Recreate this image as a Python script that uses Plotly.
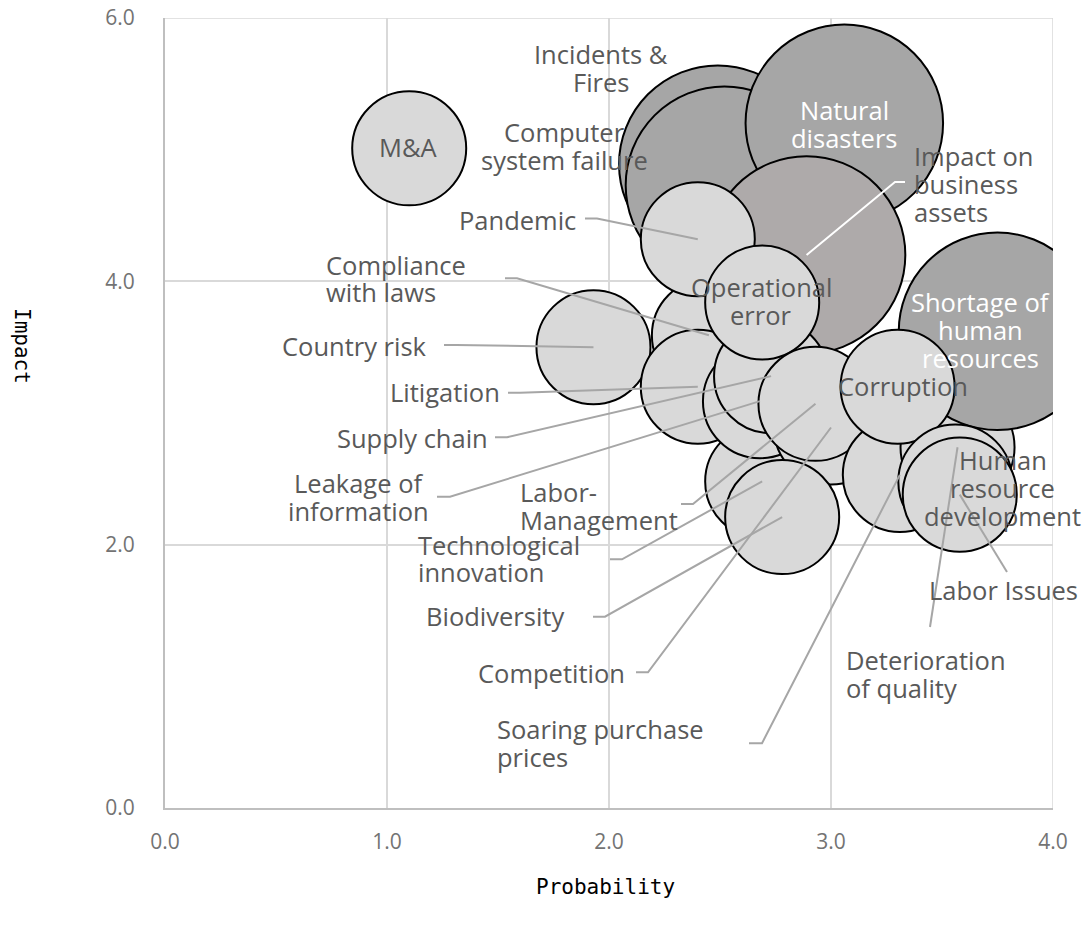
import plotly.graph_objects as go

# ------------------------------------------------------------------ data
# draw order = list order (later bubbles sit on top)
risks = [
    "Incidents & Fires", "Computer system failure", "Natural disasters",
    "Impact on business assets", "Compliance with laws", "Pandemic",
    "Country risk", "Litigation", "Technological innovation",
    "Leakage of information", "Supply chain", "Operational error",
    "Competition", "Labor-Management", "Biodiversity",
    "Soaring purchase prices", "Deterioration of quality",
    "Shortage of human resources", "Corruption",
    "Human resource development", "Labor Issues", "M&A",
]
probability = [
    2.49, 2.52, 3.06,
    2.89, 2.45, 2.40,
    1.93, 2.40, 2.69,
    2.68, 2.73, 2.69,
    3.00, 2.93, 2.78,
    3.31, 3.57,
    3.75, 3.30,
    3.56, 3.58, 1.10,
]
impact = [
    4.89, 4.73, 5.20,
    4.20, 3.59, 4.32,
    3.50, 3.20, 2.48,
    3.09, 3.28, 3.84,
    2.89, 3.07, 2.21,
    2.53, 2.74,
    3.62, 3.20,
    2.48, 2.38, 5.01,
]
bubble_size = [
    3, 3, 3,
    3, 1, 1,
    1, 1, 1,
    1, 1, 1,
    1, 1, 1,
    1, 1,
    3, 1,
    1, 1, 1,
]

x_tick_values = [0, 1, 2, 3, 4]
x_tick_labels = ["0.0", "1.0", "2.0", "3.0", "4.0"]
y_tick_values = [0, 2, 4, 6]
y_tick_labels = ["0.0", "2.0", "4.0", "6.0"]

x_title = "Probability"
y_title = "Impact"

# ------------------------------------------------------------------ layout / style
FIG_W, FIG_H = 1086, 930
M_L, M_R, M_T, M_B = 165, 33, 18, 122
PLOT_W = FIG_W - M_L - M_R
PLOT_H = FIG_H - M_T - M_B
X_RANGE = (0, 4)
Y_RANGE = (0, 6)

DARK, LIGHT, WARM = "#A6A6A6", "#D9D9D9", "#AEAAAA"
special_fill = {"Impact on business assets": WARM}
fills = [special_fill.get(r, DARK if s >= 3 else LIGHT) for r, s in zip(risks, bubble_size)]

LABEL_FONT = "Open Sans"
LABEL_SIZE = 25.5
LABEL_COLOR = "#595959"
LINE_GAP = 27.8
LEADER_COLOR = "#A6A6A6"

max_diameter = 0.25 * min(PLOT_W, PLOT_H)
sizeref = 2.0 * max(bubble_size) / max_diameter ** 2


def px_to_paper(px, py):
    return (px - M_L) / PLOT_W, (M_T + PLOT_H - py) / PLOT_H


def px_to_data(px, py):
    xp, yp = px_to_paper(px, py)
    return (X_RANGE[0] + xp * (X_RANGE[1] - X_RANGE[0]),
            Y_RANGE[0] + yp * (Y_RANGE[1] - Y_RANGE[0]))


# label placement (pixel positions of the text, leader start/elbow points)
label_layout = {
    "Incidents & Fires": dict(lines=["Incidents &", "Fires"], x=601, y=54, align="center"),
    "Computer system failure": dict(lines=["Computer", "system failure"], x=564, y=132, align="center"),
    "Natural disasters": dict(lines=["Natural", "disasters"], x=844, y=110, align="center", color="white"),
    "Impact on business assets": dict(lines=["Impact on", "business", "assets"], x=913, y=156,
                                      align="left", leader=[(905, 182), (895, 182)], leader_color="white"),
    "M&A": dict(lines=["M&A"], x=408, y=147, align="center"),
    "Pandemic": dict(lines=["Pandemic"], x=577, y=220, align="right", leader=[(585, 218.5), (597, 218.5)]),
    "Compliance with laws": dict(lines=["Compliance", "with laws"], x=325, y=264.5, align="left",
                                 leader=[(505, 278.3), (517, 278.3)]),
    "Country risk": dict(lines=["Country risk"], x=428, y=345.7, align="right", leader=[(444, 345), (456, 345)]),
    "Litigation": dict(lines=["Litigation"], x=501, y=392.3, align="right", leader=[(508, 392.7), (520, 392.7)]),
    "Supply chain": dict(lines=["Supply chain"], x=489, y=437.7, align="right", leader=[(495, 437.3), (507, 437.3)]),
    "Leakage of information": dict(lines=["Leakage of", "information"], x=358.5, y=483.3, align="center",
                                   leader=[(437, 496.7), (450, 496.7)]),
    "Labor-Management": dict(lines=["Labor-", "Management"], x=518.5, y=491.7, align="left",
                             leader=[(681, 504), (693, 504)]),
    "Technological innovation": dict(lines=["Technological", "innovation"], x=417, y=544.5, align="left",
                                     leader=[(610, 559.3), (622, 559.3)]),
    "Biodiversity": dict(lines=["Biodiversity"], x=565, y=615.8, align="right", leader=[(593, 616.7), (605, 616.7)]),
    "Competition": dict(lines=["Competition"], x=626, y=673, align="right", leader=[(636, 672.3), (648, 672.3)]),
    "Soaring purchase prices": dict(lines=["Soaring purchase", "prices"], x=495.5, y=729, align="left",
                                    leader=[(749, 743.3), (762, 743.3)]),
    "Deterioration of quality": dict(lines=["Deterioration", "of quality"], x=844.5, y=660.3, align="left",
                                     leader=[(930, 627)]),
    "Labor Issues": dict(lines=["Labor Issues"], x=928, y=590, align="left", leader=[(1007, 572)]),
    "Human resource development": dict(lines=["Human", "resource", "development"], x=1002.5, y=460, align="center"),
    "Shortage of human resources": dict(lines=["Shortage of", "human", "resources"], x=980, y=302,
                                        align="center", color="white"),
    "Operational error": dict(lines=["Operational", "error"], x=761, y=287, align="center"),
    "Corruption": dict(lines=["Corruption"], x=903, y=386, align="center"),
}

# ------------------------------------------------------------------ figure
fig = go.Figure()
fig.add_trace(go.Scatter(
    x=probability, y=impact, mode="markers",
    text=risks, hoverinfo="text",
    marker=dict(size=bubble_size, sizemode="area", sizeref=sizeref,
                color=fills, opacity=1,
                line=dict(color="black", width=2)),
    cliponaxis=True, showlegend=False,
))

annotations = []
shapes = []

# top / right frame lines (grid style)
shapes.append(dict(type="line", xref="x", yref="y", x0=X_RANGE[0], x1=X_RANGE[1], y0=Y_RANGE[1], y1=Y_RANGE[1],
                   line=dict(color="#D9D9D9", width=1.5), layer="below"))
shapes.append(dict(type="line", xref="x", yref="y", x0=X_RANGE[1], x1=X_RANGE[1], y0=Y_RANGE[0], y1=Y_RANGE[1],
                   line=dict(color="#D9D9D9", width=1.5), layer="below"))

for name, px, py in zip(risks, probability, impact):
    spec = label_layout[name]
    # leader line: label -> bubble centre
    if "leader" in spec:
        pts = [px_to_data(*p) for p in spec["leader"]] + [(px, py)]
        path = "M " + " L ".join(f"{a:.5f},{b:.5f}" for a, b in pts)
        shapes.append(dict(type="path", xref="x", yref="y", path=path,
                           line=dict(color=spec.get("leader_color", LEADER_COLOR), width=2),
                           layer="above"))
    for i, line in enumerate(spec["lines"]):
        xp, yp = px_to_paper(spec["x"], spec["y"] + i * LINE_GAP)
        annotations.append(dict(
            text=line, xref="paper", yref="paper", x=xp, y=yp,
            xanchor=spec["align"], yanchor="middle", showarrow=False,
            font=dict(family=LABEL_FONT, size=LABEL_SIZE, color=spec.get("color", LABEL_COLOR)),
            borderpad=0,
        ))

# axis titles
xp, yp = px_to_paper(605, 887)
annotations.append(dict(text=x_title, xref="paper", yref="paper", x=xp, y=yp, showarrow=False,
                        xanchor="center", yanchor="middle",
                        font=dict(family="DejaVu Sans Mono", size=21, color="black")))
xp, yp = px_to_paper(22, 346)
annotations.append(dict(text=y_title, xref="paper", yref="paper", x=xp, y=yp, showarrow=False,
                        xanchor="center", yanchor="middle", textangle=90,
                        font=dict(family="DejaVu Sans Mono", size=21, color="black")))

tick_font = dict(family="Open Sans", size=21, color="#737373")
fig.update_layout(
    width=FIG_W, height=FIG_H,
    margin=dict(l=M_L, r=M_R, t=M_T, b=M_B, pad=0, autoexpand=False),
    paper_bgcolor="white", plot_bgcolor="white",
    showlegend=False,
    xaxis=dict(range=list(X_RANGE), tickvals=x_tick_values, ticktext=x_tick_labels,
               showgrid=True, gridcolor="#D9D9D9", gridwidth=1.5, zeroline=False,
               showline=True, linecolor="#BFBFBF", linewidth=2, ticks="", automargin=False,
               tickfont=tick_font, ticklabelstandoff=14, fixedrange=True),
    yaxis=dict(range=list(Y_RANGE), tickvals=y_tick_values, ticktext=y_tick_labels,
               showgrid=True, gridcolor="#D9D9D9", gridwidth=1.5, zeroline=False,
               showline=True, linecolor="#BFBFBF", linewidth=2, ticks="", automargin=False,
               tickfont=tick_font, ticklabelstandoff=24, fixedrange=True),
    annotations=annotations,
    shapes=shapes,
)

fig.write_html("out.html")
